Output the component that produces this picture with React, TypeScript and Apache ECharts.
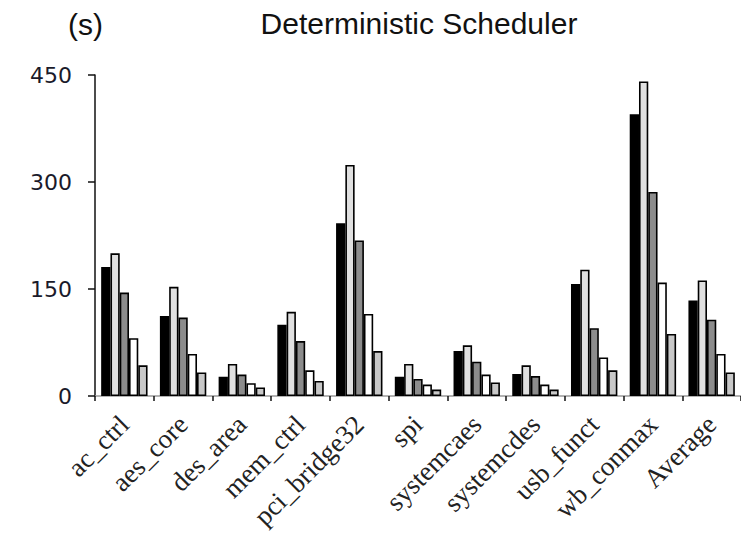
import React, { useEffect, useRef } from "react";
import * as echarts from "echarts";

const categories = [
  "ac_ctrl",
  "aes_core",
  "des_area",
  "mem_ctrl",
  "pci_bridge32",
  "spi",
  "systemcaes",
  "systemcdes",
  "usb_funct",
  "wb_conmax",
  "Average",
];

const seriesA = [181, 112, 27, 100, 242, 27, 63, 31, 157, 395, 134];
const seriesB = [200, 153, 45, 118, 324, 45, 71, 43, 177, 441, 162];
const seriesC = [145, 110, 30, 77, 218, 24, 48, 28, 95, 286, 107];
const seriesD = [81, 59, 18, 36, 115, 16, 30, 16, 54, 159, 59];
const seriesE = [43, 33, 12, 21, 63, 9, 19, 9, 36, 87, 33];

const yTicks = [0, 150, 300, 450];

const seriesList = [
  { name: "S1", data: seriesA, color: "#000000" },
  { name: "S2", data: seriesB, color: "#e0e0e0" },
  { name: "S3", data: seriesC, color: "#8c8c8c" },
  { name: "S4", data: seriesD, color: "#ffffff" },
  { name: "S5", data: seriesE, color: "#c8c8c8" },
];

export default function App() {
  const ref = useRef<HTMLDivElement>(null);

  useEffect(() => {
    if (!ref.current) return;
    const chart = echarts.init(ref.current, undefined, { renderer: "svg" });
    chart.setOption({
      animation: false,
      backgroundColor: "#ffffff",
      grid: { left: 95, top: 75, width: 649, height: 321 },
      graphic: [
        {
          type: "text",
          left: 68,
          top: 9,
          style: {
            text: "(s)",
            fontFamily: "Liberation Sans, Arial, sans-serif",
            fontSize: 30,
            fill: "#111111",
          },
        },
        {
          type: "text",
          x: 419,
          y: 23,
          style: {
            text: "Deterministic Scheduler",
            fontFamily: "Liberation Sans, Arial, sans-serif",
            fontSize: 30,
            fill: "#111111",
            align: "center",
            verticalAlign: "middle",
          },
        },
      ],
      xAxis: {
        type: "category",
        data: categories,
        boundaryGap: true,
        axisLine: { show: true, lineStyle: { color: "#999999", width: 1.5 } },
        axisTick: {
          show: true,
          alignWithLabel: false,
          length: 5,
          lineStyle: { color: "#111111", width: 1.5 },
        },
        axisLabel: {
          interval: 0,
          rotate: 45,
          margin: 24,
          fontFamily: "Liberation Serif, Times New Roman, serif",
          fontSize: 27,
          color: "#222222",
        },
      },
      yAxis: {
        type: "value",
        min: yTicks[0],
        max: yTicks[yTicks.length - 1],
        interval: 150,
        axisLine: { show: true, lineStyle: { color: "#111111", width: 1.5 } },
        axisTick: { show: true, length: 7, lineStyle: { color: "#111111", width: 1.5 } },
        splitLine: { show: false },
        axisLabel: {
          margin: 23,
          fontFamily: "DejaVu Sans, Verdana, sans-serif",
          fontSize: 22,
          color: "#1a1a2a",
        },
      },
      series: seriesList.map((s) => ({
        name: s.name,
        type: "bar",
        data: s.data,
        barGap: "0%",
        barCategoryGap: "21%",
        itemStyle: { color: s.color, borderColor: "#000000", borderWidth: 1.6 },
      })),
    });
    return () => chart.dispose();
  }, []);

  return (
    <div
      ref={ref}
      style={{ position: "fixed", left: 0, top: 0, width: 741, height: 533 }}
    />
  );
}
